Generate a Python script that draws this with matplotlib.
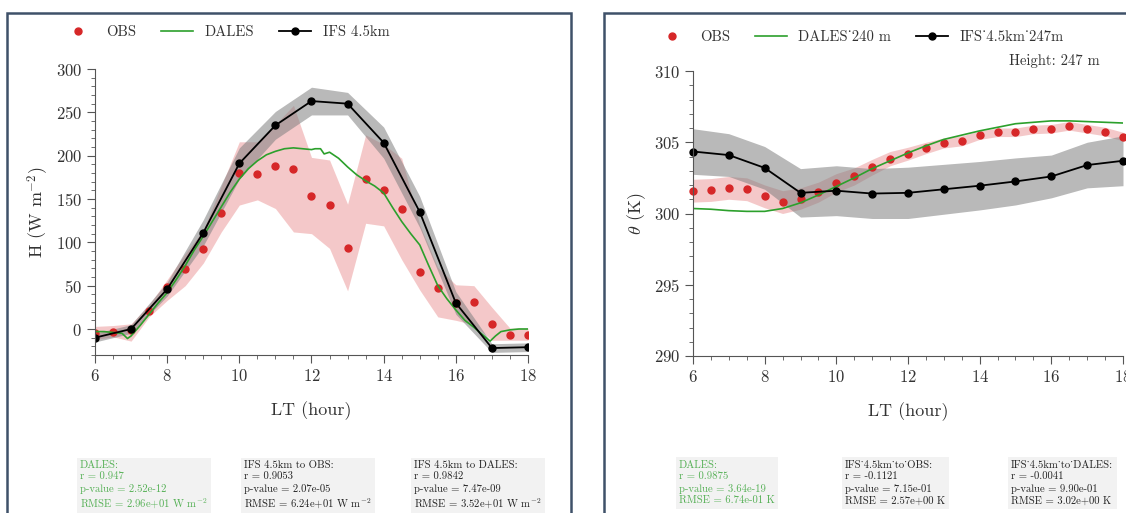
import numpy as np
import matplotlib
matplotlib.use('Agg')
from matplotlib import pyplot as plt
from matplotlib.patches import Rectangle
from matplotlib.ticker import MultipleLocator

plt.rcParams['font.family'] = ['cmr10', 'DejaVu Serif']
plt.rcParams['mathtext.fontset'] = 'cm'
plt.rcParams['axes.formatter.use_mathtext'] = True
plt.rcParams['axes.unicode_minus'] = True

# ---- left panel: sensible heat flux H (W m-2)
obs_t = np.arange(6, 18.01, 0.5)
obs_h = [-5, -3, -1, 21, 49, 69, 92, 134, 180, 179, 188, 185, 154, 143, 93,
         173, 160, 138, 66, 47, 30, 31, 6, -7, -7]
obs_h_lo = [-12, -9, -14, 14, 33, 50, 76, 112, 143, 149, 139, 112, 110, 93, 44,
            122, 119, 80, 45, 14, 10, 5, -13, -13, -13]
obs_h_hi = [3, 4, 6, 28, 57, 87, 114, 165, 216, 216, 236, 258, 198, 195, 144,
            224, 213, 197, 120, 71, 51, 50, 25, 1, 1]

ifs_t = np.arange(6, 18.01, 1.0)
ifs_h = [-10, 0, 46, 111, 191, 235, 263, 260, 215, 135, 30, -22, -21]
ifs_h_sd = [5, 5, 8, 15, 18, 16, 16, 13, 18, 18, 13, 5, 5]

dales_t_h = [6.0, 6.25, 6.5, 6.75, 6.9, 7.0, 7.25, 7.5, 7.75, 8.0, 8.25, 8.5, 8.75,
             9.0, 9.25, 9.5, 9.75, 10.0, 10.25, 10.5, 10.75, 11.0, 11.25, 11.5,
             11.75, 12.0, 12.1, 12.25, 12.35, 12.5, 12.75, 13.0, 13.25, 13.5,
             13.75, 14.0, 14.25, 14.5, 14.75, 15.0, 15.25, 15.5, 15.75, 16.0,
             16.25, 16.5, 16.75, 16.95, 17.1, 17.25, 17.5, 17.75, 18.0]
dales_h = [-3, -3, -4, -5, -11, -8, 4, 17, 30, 42, 57, 73, 91, 107, 124, 141, 158,
           173, 185, 194, 201, 205, 208, 209, 208, 207, 208, 208, 202, 204, 197,
           187, 178, 171, 165, 157, 140, 124, 110, 97, 73, 50, 35, 22, 10, 2, -7,
           -14, -8, -3, -1, 0, 0]

# ---- right panel: potential temperature theta (K)
obs_th = [301.6, 301.65, 301.8, 301.7, 301.2, 300.8, 301.05, 301.5, 302.15, 302.6,
          303.25, 303.85, 304.2, 304.6, 304.95, 305.1, 305.5, 305.7, 305.7, 305.9,
          305.95, 306.15, 305.95, 305.75, 305.4]
obs_th_sd = [0.8, 0.8, 0.8, 0.8, 0.8, 0.8, 0.75, 0.7, 0.65, 0.6, 0.55, 0.5, 0.45,
             0.4, 0.35, 0.35, 0.3, 0.3, 0.3, 0.3, 0.3, 0.3, 0.3, 0.3, 0.3]
ifs_th = [304.35, 304.1, 303.2, 301.45, 301.6, 301.4, 301.45, 301.7, 301.95,
          302.25, 302.6, 303.4, 303.7]
ifs_th_sd = [1.6, 1.5, 1.5, 1.7, 1.75, 1.75, 1.8, 1.75, 1.7, 1.65, 1.5, 1.6, 1.75]
dales_t_th = np.arange(6, 18.01, 0.5)
dales_th = [300.35, 300.3, 300.2, 300.15, 300.15, 300.35, 300.75, 301.3, 301.9,
            302.5, 303.15, 303.7, 304.25, 304.75, 305.2, 305.5, 305.8, 306.05,
            306.3, 306.4, 306.5, 306.5, 306.45, 306.4, 306.35]

stats_h = [('DALES:\nr = 0.947\np-value = 2.52e-12\nRMSE = 2.96e+01 W m$^{-2}$', '#55b055'),
           ('IFS 4.5km to OBS:\nr = 0.9053\np-value = 2.07e-05\nRMSE = 6.24e+01 W m$^{-2}$', '#222222'),
           ('IFS 4.5km to DALES:\nr = 0.9842\np-value = 7.47e-09\nRMSE = 3.52e+01 W m$^{-2}$', '#222222')]
stats_th = [('DALES:\nr = 0.9875\np-value = 3.64e-19\nRMSE = 6.74e-01 K', '#55b055'),
            ('IFS_4.5km_to_OBS:\nr = -0.1121\np-value = 7.15e-01\nRMSE = 2.57e+00 K', '#222222'),
            ('IFS_4.5km_to_DALES:\nr = -0.0041\np-value = 9.90e-01\nRMSE = 3.02e+00 K', '#222222')]

W, H = 1126, 513
fig = plt.figure(figsize=(W / 100, H / 100), dpi=100)

# panel frames
frame_col = '#3f5169'
fig.patches.append(Rectangle((7 / W, -0.1), 564 / W, 1.1 - 13 / H, transform=fig.transFigure,
                             fill=False, ec=frame_col, lw=1.8))
fig.patches.append(Rectangle((604 / W, -0.1), 0.6, 1.1 - 13 / H, transform=fig.transFigure,
                             fill=False, ec=frame_col, lw=1.8))

red = '#d62728'
green = '#2ca02c'


def style_axis(ax, ymajor, yminor):
    for s in ['top', 'right']:
        ax.spines[s].set_visible(False)
    for s in ['left', 'bottom']:
        ax.spines[s].set_color('#555555')
    ax.xaxis.set_major_locator(MultipleLocator(2))
    ax.xaxis.set_minor_locator(MultipleLocator(0.5))
    ax.yaxis.set_major_locator(MultipleLocator(ymajor))
    ax.yaxis.set_minor_locator(MultipleLocator(yminor))
    ax.tick_params(which='major', length=6, labelsize=12, colors='#555555', labelcolor='#333333')
    ax.tick_params(which='minor', length=3, colors='#555555')
    ax.set_xlabel('LT (hour)', fontsize=13, color='#333333', labelpad=12)
    ax.set_xlim(6, 18)


leg_kw = dict(ncol=3, frameon=False, fontsize=10.5, handlelength=2.2, handletextpad=0.8,
              columnspacing=1.7, borderpad=0, borderaxespad=0, labelcolor='#333333',
              loc='center left', bbox_transform=fig.transFigure)

# left axes
ax1 = fig.add_axes([95 / W, 1 - 355 / H, 433 / W, 286 / H])
ax1.fill_between(obs_t, obs_h_lo, obs_h_hi, color=red, alpha=0.25, lw=0)
ax1.fill_between(ifs_t, np.array(ifs_h) - ifs_h_sd, np.array(ifs_h) + ifs_h_sd,
                 color='gray', alpha=0.55, lw=0)
ax1.plot(obs_t, obs_h, 'o', color=red, ms=5, label='OBS')
ax1.plot(dales_t_h, dales_h, color=green, lw=1.2, label='DALES')
ax1.plot(ifs_t, ifs_h, '-o', color='black', ms=5, lw=1.3, label='IFS 4.5km')
ax1.set_ylim(-30, 300)
style_axis(ax1, 50, 10)
ax1.set_ylabel('H (W m$^{-2}$)', fontsize=13, color='#333333', labelpad=3)
ax1.legend(bbox_to_anchor=(62 / W, 1 - 32 / H), **leg_kw)

# right axes
ax2 = fig.add_axes([693 / W, 1 - 356 / H, 430 / W, 285 / H])
ax2.fill_between(obs_t, np.array(obs_th) - obs_th_sd, np.array(obs_th) + obs_th_sd,
                 color=red, alpha=0.25, lw=0)
ax2.fill_between(ifs_t, np.array(ifs_th) - ifs_th_sd, np.array(ifs_th) + ifs_th_sd,
                 color='gray', alpha=0.55, lw=0)
ax2.plot(obs_t, obs_th, 'o', color=red, ms=5, label='OBS', clip_on=False)
ax2.plot(dales_t_th, dales_th, color=green, lw=1.2, label='DALES_240 m')
ax2.plot(ifs_t, ifs_th, '-o', color='black', ms=5, lw=1.3, label='IFS_4.5km_247m', clip_on=False)
ax2.set_ylim(290, 310)
style_axis(ax2, 5, 1)
ax2.set_ylabel(r'$\theta$ (K)', fontsize=13, color='#333333', labelpad=4)
ax2.legend(bbox_to_anchor=(656 / W, 1 - 37 / H), **leg_kw)
fig.text(1100 / W, 1 - 61 / H, 'Height: 247 m', ha='right', va='center', fontsize=10.5,
         color='#333333')

# statistics boxes
for xs, stats in [([80, 244, 414], stats_h), ([679, 845, 1011], stats_th)]:
    for x, (txt, col) in zip(xs, stats):
        fig.text(x / W, 1 - 460 / H, txt, ha='left', va='top', fontsize=7.7, color=col,
                 linespacing=1.3,
                 bbox=dict(facecolor='#f2f2f2', edgecolor='none', pad=2.5))

fig.savefig('out.png', dpi=100)
